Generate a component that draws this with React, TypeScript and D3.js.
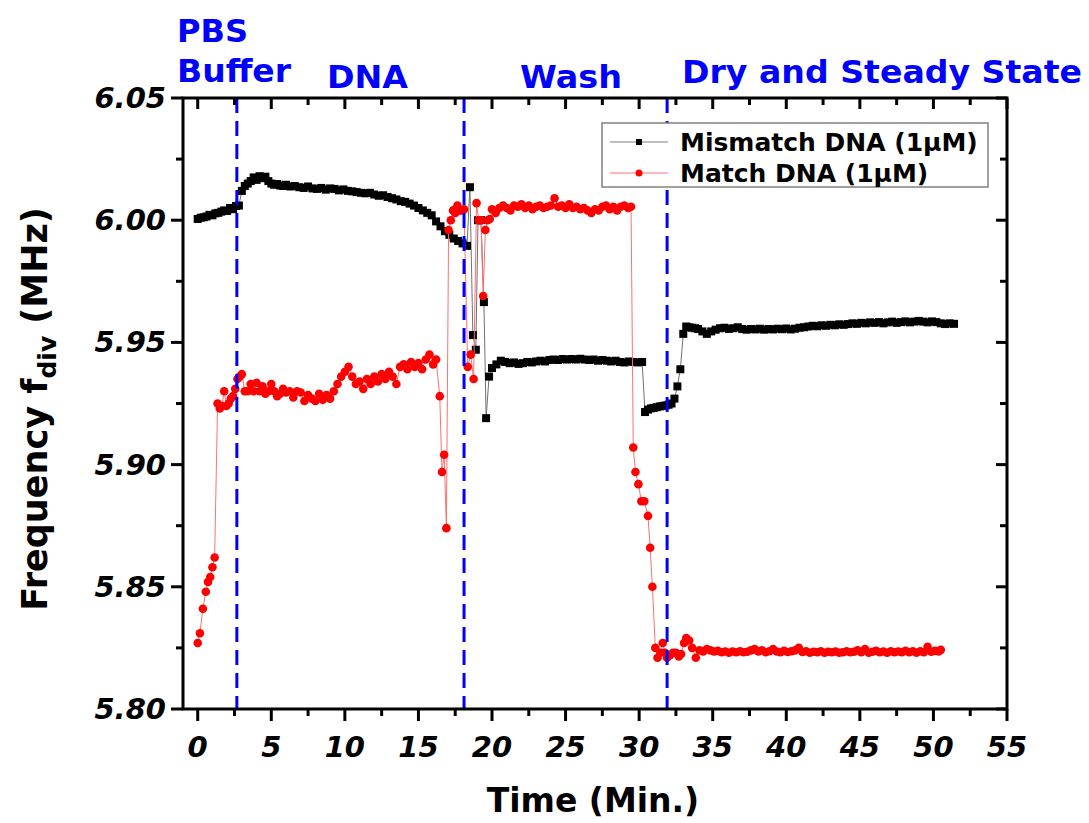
import React from 'react';
import * as d3 from 'd3';

// ---- Data (time in minutes, frequency in MHz) ----
const mismatchData: [number, number][] = [
  [0.0, 6.0005], [0.2, 6.001], [0.4, 6.0012], [0.6, 6.0015], [0.8, 6.0022], [1.0, 6.002], [1.2, 6.0028], [1.4, 6.003],
  [1.6, 6.0035], [1.8, 6.004], [2.0, 6.0038], [2.2, 6.005], [2.4, 6.0045], [2.6, 6.0058], [2.8, 6.006],
  [3.0, 6.012], [3.2, 6.014], [3.4, 6.015], [3.6, 6.016], [3.8, 6.0175], [4.0, 6.0165], [4.2, 6.018], [4.4, 6.0172],
  [4.6, 6.0178], [4.8, 6.016], [5.0, 6.015], [5.2, 6.0145], [5.4, 6.0148], [5.6, 6.0142], [5.8, 6.014], [6.0, 6.0145],
  [6.3, 6.0138], [6.6, 6.014], [6.9, 6.0135], [7.2, 6.0132], [7.5, 6.0138], [7.8, 6.013], [8.1, 6.0128], [8.4, 6.0132],
  [8.7, 6.0125], [9.0, 6.013], [9.3, 6.0128], [9.6, 6.0122], [9.9, 6.0126], [10.2, 6.012], [10.5, 6.0118], [10.8, 6.0115],
  [11.1, 6.0112], [11.4, 6.011], [11.7, 6.0112], [12.0, 6.0105], [12.3, 6.01], [12.6, 6.0102], [12.9, 6.0095], [13.2, 6.009],
  [13.5, 6.0085], [13.8, 6.0078], [14.1, 6.0075], [14.4, 6.0068], [14.7, 6.006], [15.0, 6.005], [15.3, 6.004], [15.6, 6.003],
  [15.9, 6.002], [16.2, 5.9995], [16.5, 5.9975], [16.8, 5.9955], [17.1, 5.994], [17.4, 5.9925], [17.7, 5.9915], [18.0, 5.9905],
  [18.3, 5.9895], [18.5, 6.0135], [18.7, 5.953], [18.9, 5.947], [19.05, 6.0], [19.25, 6.0], [19.45, 5.9665], [19.6, 5.919],
  [19.8, 5.936], [20.0, 5.9395], [20.3, 5.941], [20.6, 5.9425], [20.9, 5.942], [21.2, 5.9415], [21.5, 5.9418], [21.8, 5.9412],
  [22.1, 5.9415], [22.4, 5.942], [22.7, 5.9418], [23.0, 5.9422], [23.3, 5.9425], [23.6, 5.9422], [23.9, 5.9428], [24.2, 5.943],
  [24.5, 5.9428], [24.8, 5.9432], [25.1, 5.943], [25.4, 5.9432], [25.7, 5.943], [26.0, 5.9433], [26.3, 5.943], [26.6, 5.9428],
  [26.9, 5.943], [27.2, 5.9425], [27.5, 5.9428], [27.8, 5.9425], [28.1, 5.9422], [28.4, 5.9425], [28.7, 5.942], [29.0, 5.9418],
  [29.3, 5.9422], [29.6, 5.942], [29.9, 5.9418], [30.2, 5.942], [30.4, 5.9215], [30.6, 5.9225], [30.8, 5.923], [31.0, 5.9232],
  [31.2, 5.9235], [31.4, 5.9238], [31.6, 5.924], [31.8, 5.9242], [32.0, 5.9245], [32.2, 5.925], [32.4, 5.927], [32.6, 5.932],
  [32.8, 5.939], [33.0, 5.9535], [33.2, 5.9565], [33.4, 5.9562], [33.6, 5.956], [33.8, 5.9558], [34.0, 5.9555], [34.3, 5.9545],
  [34.6, 5.9535], [34.9, 5.9545], [35.2, 5.9552], [35.5, 5.9558], [35.8, 5.956], [36.1, 5.9555], [36.4, 5.9558], [36.7, 5.9562],
  [37.0, 5.9555], [37.3, 5.9552], [37.6, 5.9555], [37.9, 5.9553], [38.2, 5.9556], [38.5, 5.9552], [38.8, 5.9555], [39.1, 5.9553],
  [39.4, 5.9556], [39.7, 5.9554], [40.0, 5.9557], [40.3, 5.9553], [40.6, 5.9556], [40.9, 5.956], [41.2, 5.9562], [41.5, 5.9565],
  [41.8, 5.9568], [42.1, 5.9566], [42.4, 5.957], [42.7, 5.9568], [43.0, 5.9572], [43.3, 5.957], [43.6, 5.9574], [43.9, 5.9572],
  [44.2, 5.9575], [44.5, 5.9578], [44.8, 5.9576], [45.1, 5.958], [45.4, 5.9578], [45.7, 5.9582], [46.0, 5.958], [46.3, 5.9583],
  [46.6, 5.9578], [46.9, 5.9582], [47.2, 5.9585], [47.5, 5.958], [47.8, 5.9583], [48.1, 5.9586], [48.4, 5.9582], [48.7, 5.9585],
  [49.0, 5.9588], [49.3, 5.9585], [49.6, 5.9582], [49.9, 5.9586], [50.2, 5.9583], [50.5, 5.9578], [50.8, 5.9575], [51.1, 5.9578],
  [51.4, 5.9576],
];

const matchData: [number, number][] = [
  [0.0, 5.827], [0.15, 5.831], [0.35, 5.841], [0.55, 5.848], [0.7, 5.852], [0.85, 5.854], [1.0, 5.858], [1.15, 5.862],
  [1.35, 5.925], [1.5, 5.923], [1.65, 5.924], [1.8, 5.93], [1.95, 5.924], [2.1, 5.925], [2.25, 5.927], [2.4, 5.928],
  [2.55, 5.931], [2.7, 5.935], [2.85, 5.936], [3.0, 5.937], [3.2, 5.93], [3.4, 5.93], [3.6, 5.933], [3.8, 5.93],
  [4.0, 5.9335], [4.2, 5.93], [4.4, 5.932], [4.6, 5.929], [4.8, 5.93], [5.0, 5.933], [5.2, 5.93], [5.4, 5.928],
  [5.6, 5.929], [5.8, 5.931], [6.0, 5.9295], [6.25, 5.93], [6.5, 5.9275], [6.75, 5.93], [7.0, 5.9295], [7.25, 5.926],
  [7.5, 5.9285], [7.75, 5.927], [8.0, 5.926], [8.25, 5.929], [8.5, 5.9265], [8.75, 5.9285], [9.0, 5.927], [9.25, 5.93],
  [9.5, 5.933], [9.75, 5.936], [10.0, 5.938], [10.25, 5.94], [10.5, 5.936], [10.75, 5.933], [11.0, 5.934], [11.25, 5.931],
  [11.5, 5.935], [11.75, 5.933], [12.0, 5.936], [12.25, 5.934], [12.5, 5.937], [12.75, 5.935], [13.0, 5.938], [13.25, 5.936],
  [13.5, 5.933], [13.75, 5.94], [14.0, 5.941], [14.25, 5.939], [14.5, 5.942], [14.75, 5.94], [15.0, 5.9415], [15.25, 5.939],
  [15.5, 5.943], [15.75, 5.945], [16.0, 5.941], [16.2, 5.943], [16.45, 5.928], [16.6, 5.897], [16.75, 5.904], [16.9, 5.874],
  [17.05, 5.996], [17.2, 6.0], [17.35, 6.004], [17.5, 6.003], [17.65, 6.006], [17.8, 6.004], [17.95, 6.004], [18.1, 6.0045],
  [18.35, 5.94], [18.55, 5.945], [18.75, 5.935], [18.95, 6.007], [19.1, 6.0], [19.25, 6.0], [19.4, 5.969], [19.55, 5.996],
  [19.7, 6.0], [19.85, 6.0005], [20.0, 6.0045], [20.25, 6.003], [20.5, 6.005], [20.75, 6.006], [21.0, 6.005], [21.25, 6.004],
  [21.5, 6.006], [21.75, 6.0055], [22.0, 6.0065], [22.25, 6.005], [22.5, 6.006], [22.75, 6.0045], [23.0, 6.0055], [23.25, 6.006],
  [23.5, 6.005], [23.75, 6.0055], [24.0, 6.006], [24.25, 6.009], [24.5, 6.0055], [24.75, 6.006], [25.0, 6.005], [25.25, 6.0065],
  [25.5, 6.005], [25.75, 6.0055], [26.0, 6.0045], [26.25, 6.005], [26.5, 6.004], [26.75, 6.003], [27.0, 6.0045], [27.25, 6.004],
  [27.5, 6.0055], [27.75, 6.006], [28.0, 6.0045], [28.25, 6.0055], [28.5, 6.004], [28.75, 6.0055], [29.0, 6.006], [29.25, 6.005],
  [29.45, 6.0055], [29.6, 5.907], [29.75, 5.897], [29.95, 5.892], [30.15, 5.885], [30.35, 5.885], [30.6, 5.879], [30.75, 5.866],
  [30.9, 5.85], [31.1, 5.825], [31.25, 5.821], [31.45, 5.823], [31.6, 5.827], [31.75, 5.823], [31.9, 5.821], [32.1, 5.822],
  [32.3, 5.823], [32.5, 5.823], [32.7, 5.8215], [32.85, 5.8225], [33.05, 5.827], [33.2, 5.829], [33.4, 5.828], [33.6, 5.825],
  [33.85, 5.821], [34.1, 5.824], [34.35, 5.8235], [34.6, 5.8245], [34.85, 5.824], [35.1, 5.8235], [35.35, 5.8238], [35.6, 5.8232],
  [35.85, 5.8235], [36.1, 5.823], [36.35, 5.8235], [36.6, 5.8232], [36.85, 5.8236], [37.1, 5.8232], [37.35, 5.8234], [37.6, 5.824],
  [37.85, 5.8245], [38.1, 5.8235], [38.35, 5.824], [38.6, 5.8232], [38.85, 5.8236], [39.1, 5.8245], [39.35, 5.8235], [39.6, 5.8232],
  [39.85, 5.8238], [40.1, 5.8233], [40.35, 5.8236], [40.6, 5.824], [40.85, 5.825], [41.1, 5.8233], [41.35, 5.8236], [41.6, 5.823],
  [41.85, 5.8234], [42.1, 5.8232], [42.35, 5.8236], [42.6, 5.823], [42.85, 5.8234], [43.1, 5.8232], [43.35, 5.8235], [43.6, 5.823],
  [43.85, 5.8232], [44.1, 5.8236], [44.35, 5.8232], [44.6, 5.8234], [44.85, 5.824], [45.1, 5.8232], [45.35, 5.8245], [45.6, 5.823],
  [45.85, 5.8234], [46.1, 5.8238], [46.35, 5.8232], [46.6, 5.8235], [46.85, 5.823], [47.1, 5.8236], [47.35, 5.8232], [47.6, 5.8235],
  [47.85, 5.8232], [48.1, 5.8238], [48.35, 5.8232], [48.6, 5.8236], [48.85, 5.823], [49.1, 5.8236], [49.35, 5.8232], [49.6, 5.8255],
  [49.85, 5.8234], [50.1, 5.8238], [50.35, 5.8235], [50.5, 5.8242],
];

const xMajorTicks = [0, 5, 10, 15, 20, 25, 30, 35, 40, 45, 50, 55];
const xMinorTicks = [2.5, 7.5, 12.5, 17.5, 22.5, 27.5, 32.5, 37.5, 42.5, 47.5, 52.5];
const yMajorTicks = [5.8, 5.85, 5.9, 5.95, 6.0, 6.05];
const yMinorTicks = [5.825, 5.875, 5.925, 5.975, 6.025];
const phaseBoundaries = [2.66, 18.1, 31.9];
const phaseLabels = ['PBS', 'Buffer', 'DNA', 'Wash', 'Dry and Steady State'];
const seriesNames = ['Mismatch DNA (1\u03bcM)', 'Match DNA (1\u03bcM)'];

const FONT = "'DejaVu Sans', Verdana, sans-serif";

export default function App() {
  const W = 1089, H = 823;
  const left = 183, right = 1007, top = 98, bottom = 709;
  const x = d3.scaleLinear().domain([-1, 55]).range([left, right]);
  const y = d3.scaleLinear().domain([5.8, 6.05]).range([bottom, top]);
  const line = d3.line<[number, number]>().x(d => x(d[0])).y(d => y(d[1]));

  // phase label layout: [x, baseline, textLength]
  const phaseLayout: [number, number, number][] = [
    [177, 42, 71], [177, 82, 114], [327, 88, 81], [520, 88, 102], [682, 83, 400],
  ];

  const legendRows = [142, 173];

  return (
    <svg width={W} height={H} style={{ position: 'absolute', left: 0, top: 0, background: '#fff' }}
      fontFamily={FONT}>
      <rect x={0} y={0} width={W} height={H} fill="#fff" />

      {/* phase labels */}
      {phaseLabels.map((t, i) => (
        <text key={t} x={phaseLayout[i][0]} y={phaseLayout[i][1]} fill="#0000ff" fontWeight="bold"
          fontSize={32} textLength={phaseLayout[i][2]} lengthAdjust="spacingAndGlyphs">{t}</text>
      ))}

      {/* data series */}
      <path d={line(mismatchData) || ''} fill="none" stroke="#707070" strokeWidth={1} />
      {mismatchData.map((d, i) => (
        <rect key={'m' + i} x={x(d[0]) - 4} y={y(d[1]) - 4} width={8} height={8} fill="#000" />
      ))}
      <path d={line(matchData) || ''} fill="none" stroke="#ff7070" strokeWidth={1} />
      {matchData.map((d, i) => (
        <circle key={'r' + i} cx={x(d[0])} cy={y(d[1])} r={4.3} fill="#ff0000" />
      ))}

      {/* phase boundaries */}
      {phaseBoundaries.map(b => (
        <line key={b} x1={x(b)} x2={x(b)} y1={top} y2={bottom} stroke="#0000ff" strokeWidth={3}
          strokeDasharray="15 8" />
      ))}

      {/* legend */}
      <rect x={602} y={123} width={386} height={64} fill="#fff" stroke="#808080" strokeWidth={1.5} />
      <line x1={610} x2={668} y1={legendRows[0]} y2={legendRows[0]} stroke="#808080" strokeWidth={1} />
      <rect x={636} y={legendRows[0] - 3} width={6} height={6} fill="#000" />
      <text x={680} y={legendRows[0] + 9} fontSize={25} fontWeight="bold" fill="#000">{seriesNames[0]}</text>
      <line x1={610} x2={668} y1={legendRows[1]} y2={legendRows[1]} stroke="#ff7070" strokeWidth={1} />
      <circle cx={639} cy={legendRows[1]} r={3.5} fill="#ff0000" />
      <text x={680} y={legendRows[1] + 9} fontSize={25} fontWeight="bold" fill="#000">{seriesNames[1]}</text>

      {/* frame */}
      <rect x={left} y={top} width={right - left} height={bottom - top} fill="none" stroke="#000" strokeWidth={3} />

      {/* x ticks */}
      {xMajorTicks.map(t => (
        <g key={'xt' + t}>
          <line x1={x(t)} x2={x(t)} y1={bottom} y2={bottom + 12} stroke="#000" strokeWidth={3} />
          <line x1={x(t)} x2={x(t)} y1={top} y2={top + 11} stroke="#000" strokeWidth={3} />
          <text x={x(t)} y={757} textAnchor="middle" fontSize={29} fontWeight="bold" fontStyle="italic">{t}</text>
        </g>
      ))}
      {xMinorTicks.map(t => (
        <g key={'xm' + t}>
          <line x1={x(t)} x2={x(t)} y1={bottom} y2={bottom + 7} stroke="#000" strokeWidth={3} />
          <line x1={x(t)} x2={x(t)} y1={top} y2={top + 7} stroke="#000" strokeWidth={3} />
        </g>
      ))}

      {/* y ticks */}
      {yMajorTicks.map(t => (
        <g key={'yt' + t}>
          <line x1={left - 12} x2={left} y1={y(t)} y2={y(t)} stroke="#000" strokeWidth={3} />
          <line x1={right - 11} x2={right} y1={y(t)} y2={y(t)} stroke="#000" strokeWidth={3} />
          <text x={166} y={y(t) + 10} textAnchor="end" fontSize={29} fontWeight="bold" fontStyle="italic">
            {d3.format('.2f')(t)}
          </text>
        </g>
      ))}
      {yMinorTicks.map(t => (
        <g key={'ym' + t}>
          <line x1={left - 7} x2={left} y1={y(t)} y2={y(t)} stroke="#000" strokeWidth={3} />
          <line x1={right - 7} x2={right} y1={y(t)} y2={y(t)} stroke="#000" strokeWidth={3} />
        </g>
      ))}

      {/* axis titles */}
      <text x={593} y={812} textAnchor="middle" fontSize={33} fontWeight="bold">Time (Min.)</text>
      <text transform="translate(47,409) rotate(-90)" textAnchor="middle" fontSize={35} fontWeight="bold">
        Frequency f<tspan fontSize={25} dy={9}>div</tspan><tspan dy={-9}> (MHz)</tspan>
      </text>
    </svg>
  );
}
